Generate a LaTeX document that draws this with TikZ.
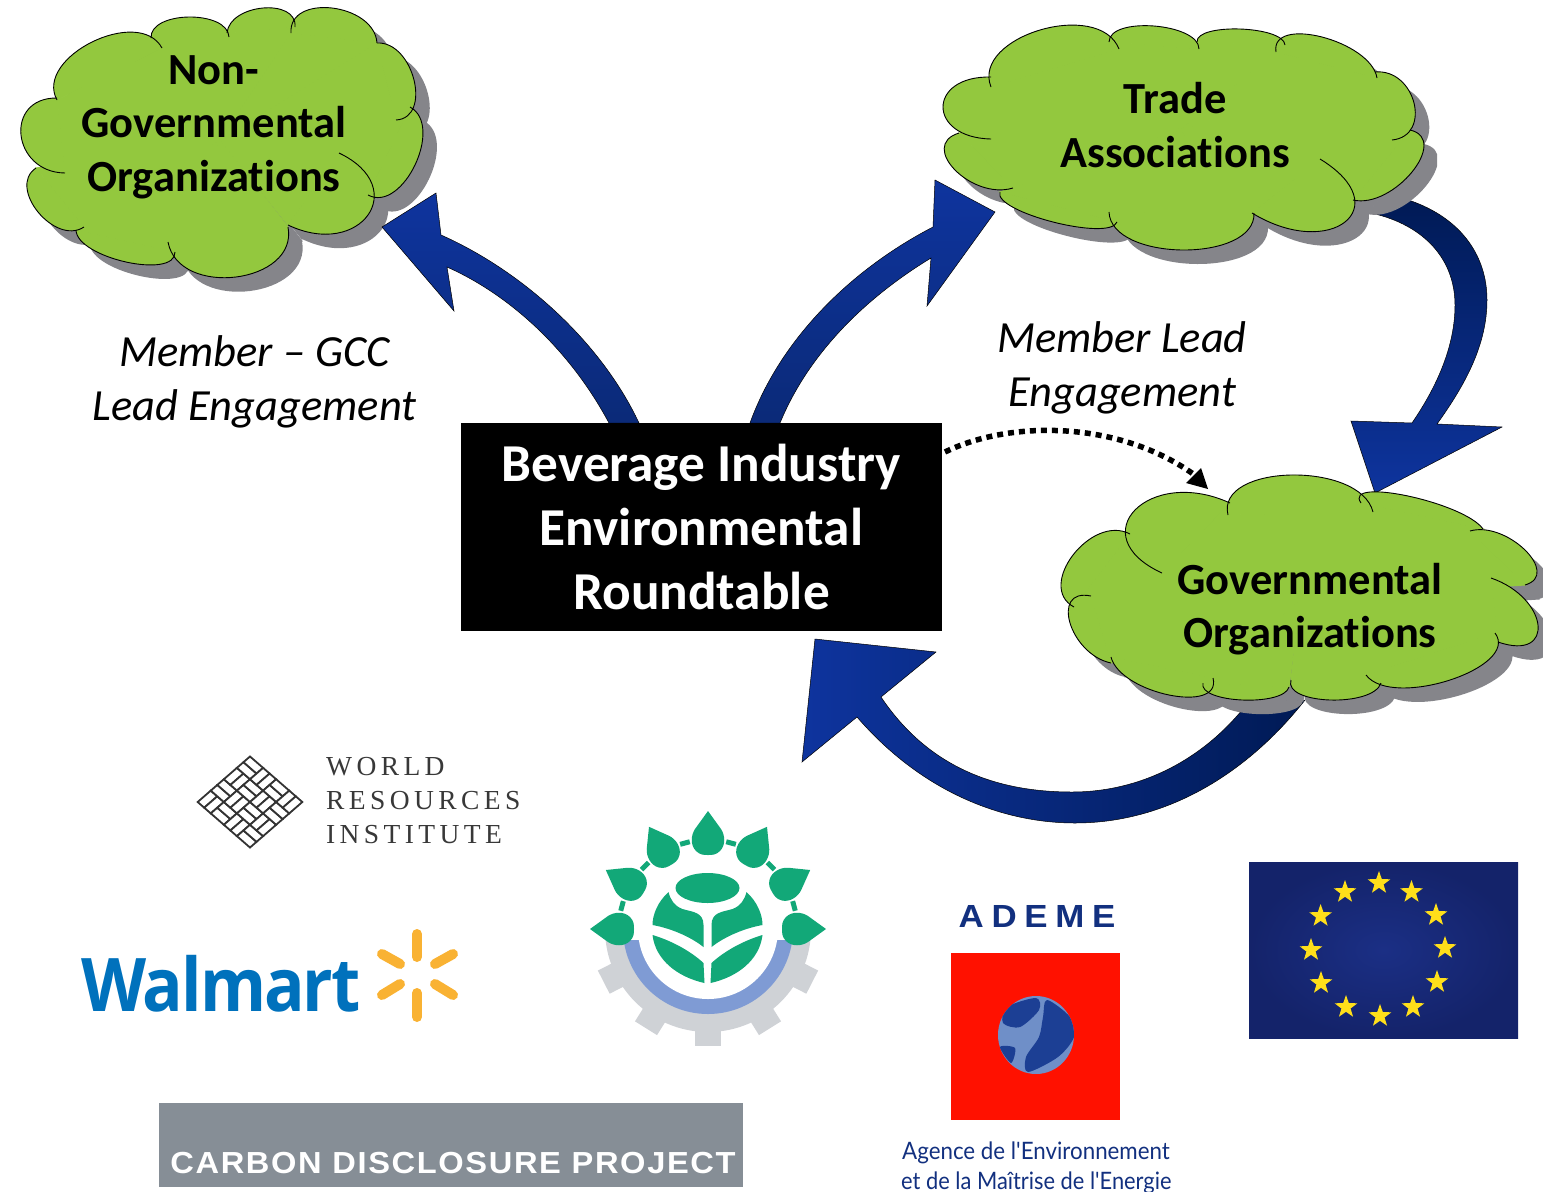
\documentclass[tikz,border=0pt]{standalone}
\usepackage{fontspec}
\setmainfont[Ligatures=NoCommon]{Carlito}
\newfontfamily\wrifont[LetterSpace=16]{Liberation Serif}
\newfontfamily\wmfont[LetterSpace=-3]{Open Sans}
\newfontfamily\ademefont[LetterSpace=22]{Liberation Sans}
\newfontfamily\agencefont{Lato}
\newfontfamily\cdpfont[LetterSpace=5]{Liberation Sans}
\usetikzlibrary{shapes.geometric}
\definecolor{cloudgreen}{HTML}{93C83E}
\definecolor{cloudshadow}{HTML}{85858A}
\definecolor{headblue}{HTML}{0E349E}
\definecolor{taildark}{HTML}{001A55}
\definecolor{midblue}{HTML}{0B2A78}
\definecolor{leafgreen}{HTML}{12A878}
\definecolor{gearbg}{HTML}{CFD2D6}
\definecolor{ringblue}{HTML}{7F9BD4}
\definecolor{wmblue}{HTML}{0071BC}
\definecolor{wmyellow}{HTML}{F9B233}
\definecolor{navy}{HTML}{12307F}
\definecolor{ademered}{HTML}{FF1100}
\definecolor{landblue}{HTML}{6F8FC8}
\definecolor{seablue}{HTML}{1C3F94}
\definecolor{euflag}{HTML}{14236A}
\definecolor{euflagmid}{HTML}{1B2F85}
\definecolor{eustar}{HTML}{FFDF1A}
\definecolor{cdpgrey}{HTML}{868E96}
\tikzset{
  cloudtext/.style={font=\fontsize{44.5}{53.5}\selectfont\bfseries,align=center,text=black,inner sep=0pt},
  leadtext/.style={font=\fontsize{44.5}{53.8}\selectfont\itshape,align=center,text=black,inner sep=0pt},
  blockarrow/.style={draw=black,line width=.5pt},
  leaf/.style={fill=leafgreen},
  wristrip/.style={fill=white,draw=black!80,line width=1.8pt},
  spoke/.style={draw=wmyellow,line width=10pt,line cap=round},
  eustarnode/.style={star,star points=5,star point ratio=2.5,fill=eustar,inner sep=0pt,minimum size=24pt},
}
\newcommand{\lobe}[7]{%
  \pgfmathsetmacro\cax{#2+1.3333*(#4-0.5*#2-0.5*#6)}%
  \pgfmathsetmacro\cay{#3+1.3333*(#5-0.5*#3-0.5*#7)}%
  \pgfmathsetmacro\cbx{#6+1.3333*(#4-0.5*#2-0.5*#6)}%
  \pgfmathsetmacro\cby{#7+1.3333*(#5-0.5*#3-0.5*#7)}%
  \path[#1] (#2,#3) .. controls (\cax,\cay) and (\cbx,\cby) .. (#6,#7);}
% #1 lobes, #2 centre point, #3 clip of the shadow
\newcommand{\cloudshape}[3]{%
  \begin{scope}
    \clip #3;
    \begin{scope}[shift={(14,14)}]
      \foreach \la/\lb/\lc/\ld/\le/\lf in #1 {%
        \path[fill=cloudshadow,draw=cloudshadow,line width=1pt] #2 -- (\la,\lb) -- (\le,\lf) -- cycle;
        \lobe{fill=cloudshadow}{\la}{\lb}{\lc}{\ld}{\le}{\lf}}
    \end{scope}
  \end{scope}
  \foreach \la/\lb/\lc/\ld/\le/\lf in #1 {%
    \path[fill=cloudgreen,draw=cloudgreen,line width=1pt] #2 -- (\la,\lb) -- (\le,\lf) -- cycle;
    \lobe{fill=cloudgreen}{\la}{\lb}{\lc}{\ld}{\le}{\lf}}
  \foreach \la/\lb/\lc/\ld/\le/\lf in #1 {\lobe{draw=black,line width=.9pt}{\la}{\lb}{\lc}{\ld}{\le}{\lf}}
}
\def\ngolobes{57/100/92/42/162/48,151/38/189/17/229/37,227/33/263/8/295/27,291/33/332/8/377/43,377/43/414/80/396/120,410/107/415/165/368/195,339/153/368/215/288/225,288/227/236/277/168/242,175/252/126/262/76/230,84/227/38/212/36/168,65/173/21/135/57/98}
\def\tradelobes{991/87/1040/30/1119/49,1109/42/1154/26/1199/49,1197/42/1240/29/1285/45,1276/52/1322/37/1377/78,1375/72/1414/103/1392/140,1410/130/1412/172/1353/200,1320/159/1345/222/1252/213,1254/213/1183/250/1109/212,1117/222/1053/222/1000/192,1013/188/955/170/959/133,991/139/943/107/991/77}
\def\govlobes{1162/573/1135/510/1230/503,1228/515/1291/475/1373/512,1361/503/1408/496/1483/529,1470/531/1525/550/1525/585,1491/578/1538/625/1498/642,1495/633/1450/680/1366/675,1381/683/1330/700/1291/680,1289/687/1242/700/1203/683,1213/678/1169/695/1111/657,1111/663/1070/623/1091/596,1074/607/1073/555/1130/534}
\begin{document}
\begin{tikzpicture}[x=1pt,y=-1pt]
\useasboundingbox (0,0) rectangle (1543,1192);
% arrows passing behind clouds
\path[blockarrow,top color=taildark,middle color=midblue,bottom color=headblue]
  (1402,198) .. controls (1460,215) and (1487,255) .. (1487,300)
  .. controls (1487,345) and (1465,385) .. (1437,424)
  -- (1502,427) -- (1375,493) -- (1351,421) -- (1412,423)
  .. controls (1438,385) and (1455,345) .. (1455,305)
  .. controls (1455,260) and (1425,225) .. (1371,213) -- cycle;
\path[blockarrow,left color=headblue,middle color=headblue,right color=taildark]
  (815,639) -- (936,652) -- (881,697)
  .. controls (930,770) and (1000,792) .. (1072,792)
  .. controls (1140,792) and (1205,760) .. (1250,700)
  -- (1305,700)
  .. controls (1250,770) and (1170,823) .. (1075,823)
  .. controls (1000,823) and (920,790) .. (857,717)
  -- (802,762) -- cycle;
% clouds
\cloudshape{\ngolobes}{(220,140)}{(0,0) rectangle (437,1192)}
\cloudshape{\tradelobes}{(1180,130)}{(0,0) rectangle (1437,1192)}
\cloudshape{\govlobes}{(1300,600)}{(0,0) rectangle (1543,1192)}
\node[cloudtext] (ngo) at (214,127) {Non-\\Governmental\\Organizations};
\node[cloudtext] (trade) at (1175,125) {Trade\\Associations};
\node[cloudtext] (gov) at (1310,609) {Governmental\\Organizations};
% arrows from the black box
\coordinate (ngoTail) at (639,423);
\coordinate (tradeTail) at (750,423);
\path[blockarrow,top color=headblue,bottom color=midblue]
  (382,227) -- (436,193) -- (441,235)
  .. controls (520,270) and (600,340) .. (ngoTail)
  -- (609,423) .. controls (570,350) and (510,295) .. (447,267)
  -- (454,311) -- cycle;
\path[blockarrow,top color=headblue,bottom color=midblue]
  (995,212) -- (935,180) -- (933,227)
  .. controls (850,270) and (780,340) .. (tradeTail)
  -- (780,423) .. controls (810,350) and (870,295) .. (931,258)
  -- (927,306) -- cycle;
% central box
\node[fill=black,minimum width=481pt,minimum height=208pt,inner sep=0pt] (round) at (701.5,527) {};
\node[text=white,font=\fontsize{53.3}{64}\selectfont\bfseries,align=center,inner sep=0pt] (roundtext) at (round.center) {Beverage Industry\\Environmental\\Roundtable};
% dotted connector
\coordinate (dotStart) at (945,452);
\coordinate (dotEnd) at (1196,476);
\coordinate (dotTip) at (1208,489);
\draw[line width=5.5pt,dash pattern=on 6pt off 5pt] (dotStart) .. controls (1010,420) and (1120,420) .. (dotEnd);
\fill (dotTip) -- (1186,483) -- (1201,468) -- cycle;
% labels
\node[leadtext] (leftlabel) at (254.5,382) {Member -- GCC\\Lead Engagement};
\node[leadtext] (rightlabel) at (1122,368) {Member Lead\\Engagement};
% WRI logo
\begin{scope}[shift={(250,802)},yscale=.87,rotate=45]
  \foreach \ti in {0,1,2,3}{\foreach \tj in {0,1,2,3}{
    \pgfmathtruncatemacro\wpar{mod(\ti+\tj,2)}
    \pgfmathsetmacro\px{-37+18.5*\ti}
    \pgfmathsetmacro\py{-37+18.5*\tj}
    \ifnum\wpar=0
      \draw[wristrip] (\px,\py) rectangle ++(18.5,9.25);
      \draw[wristrip] (\px,\py+9.25) rectangle ++(18.5,9.25);
    \else
      \draw[wristrip] (\px,\py) rectangle ++(9.25,18.5);
      \draw[wristrip] (\px+9.25,\py) rectangle ++(9.25,18.5);
    \fi
  }}
\end{scope}
\node[anchor=west,inner sep=0pt,text=black!78,font=\fontsize{27.5}{27.5}\selectfont\wrifont] (wri1) at (326,767) {WORLD};
\node[anchor=west,inner sep=0pt,text=black!78,font=\fontsize{27.5}{27.5}\selectfont\wrifont] (wri2) at (326,801) {RESOURCES};
\node[anchor=west,inner sep=0pt,text=black!78,font=\fontsize{27.5}{27.5}\selectfont\wrifont] (wri3) at (326,835) {INSTITUTE};
% Walmart
\node[anchor=base west,inner sep=0pt,text=wmblue,font=\fontsize{74}{74}\selectfont\wmfont\bfseries] (walmart) at (81,1011) {\scalebox{.91}[1]{Walmart}};
\draw[spoke] (417,934) -- (417,957);
\draw[spoke] (417,993) -- (417,1017);
\draw[spoke] (382,954) -- (400,964);
\draw[spoke] (453,954) -- (435,964);
\draw[spoke] (382,995) -- (400,984);
\draw[spoke] (453,995) -- (435,984);
% leaf and gear logo
\begin{scope}
  \clip (500,940) rectangle (900,1060);
  \fill[gearbg] (708,929) circle[radius=103pt];
  \foreach \ta in {-90,-122,-58,-153,-27}{
    \fill[gearbg,shift={(708,929)},rotate=\ta] (95,-13) rectangle (117,13);
  }
  \fill[ringblue] (708,929) circle[radius=85pt];
\end{scope}
\fill[white] (708,929) circle[radius=70pt];
\foreach \ta in {0,30,60,90,120,150,180}{
  \begin{scope}[shift={(708,929)},rotate=\ta]
    \path[leaf] (118,0) -- (100,13) .. controls (94,17) and (84,18) .. (78,12) .. controls (74,8) and (74,4) .. (74,0)
      .. controls (74,-4) and (74,-8) .. (78,-12) .. controls (84,-18) and (94,-17) .. (100,-13) -- cycle;
  \end{scope}
}
\foreach \ta in {15,45,75,105,135,165}{
  \begin{scope}[shift={(708,929)},rotate=\ta]
    \draw[leafgreen,line width=5pt] (89,-5) -- (89,5);
  \end{scope}
}
\fill[leafgreen] (707.5,888) ellipse[x radius=32pt,y radius=15pt];
\foreach \ts in {1,-1}{
  \begin{scope}[shift={(707.5,0)},xscale=\ts]
    \path[leaf] (-39,892) .. controls (-50,902) and (-55,915) .. (-55,925)
      .. controls (-38,928) and (-18,936) .. (-4,947) -- (-4,925)
      .. controls (-4,912) and (-15,912) .. (-25,909)
      .. controls (-33,906) and (-37,900) .. (-39,892) -- cycle;
    \path[leaf] (-55,935) .. controls (-38,940) and (-18,950) .. (-4,963) -- (-3,983)
      .. controls (-30,977) and (-52,960) .. (-55,935) -- cycle;
  \end{scope}
}
% ADEME logo
\node[inner sep=0pt,text=navy,font=\fontsize{32}{32}\selectfont\ademefont\bfseries] (ademe) at (1037,916) {\scalebox{1.09}[1]{ADEME}};
\fill[ademered] (951,953) rectangle (1120,1120);
\begin{scope}
  \clip (1036,1035) ellipse[x radius=38pt,y radius=39pt];
  \fill[landblue] (998,996) rectangle (1074,1074);
  \fill[seablue] plot[smooth cycle] coordinates {(1007,1007) (1036,998) (1039,1010) (1020,1027) (1003,1023)};
  \fill[seablue] plot[smooth cycle] coordinates {(1047,1000) (1070,1017) (1074,1037) (1058,1057) (1028,1072) (1026,1057) (1039,1037) (1043,1017)};
  \fill[seablue] plot[smooth cycle] coordinates {(1000,1047) (1015,1048) (1011,1063)};
\end{scope}
\begin{scope}
  \clip (890,1130) rectangle (1171,1192);
  \node[anchor=west,inner sep=0pt,text=navy,font=\fontsize{24}{24}\selectfont\agencefont] (agence1) at (902,1153) {\scalebox{.93}[1]{Agence de l'Environnement}};
  \node[anchor=west,inner sep=0pt,text=navy,font=\fontsize{24}{24}\selectfont\agencefont] (agence2) at (901,1183) {\scalebox{.91}[1]{et de la Maîtrise de l'Energie}};
\end{scope}
% EU flag
\shade[inner color=euflagmid,outer color=euflag] (1249,862) rectangle (1518,1038);
\foreach \sx/\sy [count=\si] in {1379/883,1345/892,1411.5/892,1320.6/916,1436/915,1311/950,1445/948,1321/983,1437/982,1346/1007,1413/1007,1380/1016}{
  \node[eustarnode] (eustar\si) at (\sx,\sy) {};
}
% Carbon Disclosure Project
\fill[cdpgrey] (158.5,1103) rectangle (743,1187);
\node[inner sep=0pt,text=white,font=\fontsize{29}{29}\selectfont\cdpfont\bfseries] (cdp) at (453,1163) {\scalebox{1.125}[1.05]{CARBON DISCLOSURE PROJECT}};
\end{tikzpicture}
\end{document}
